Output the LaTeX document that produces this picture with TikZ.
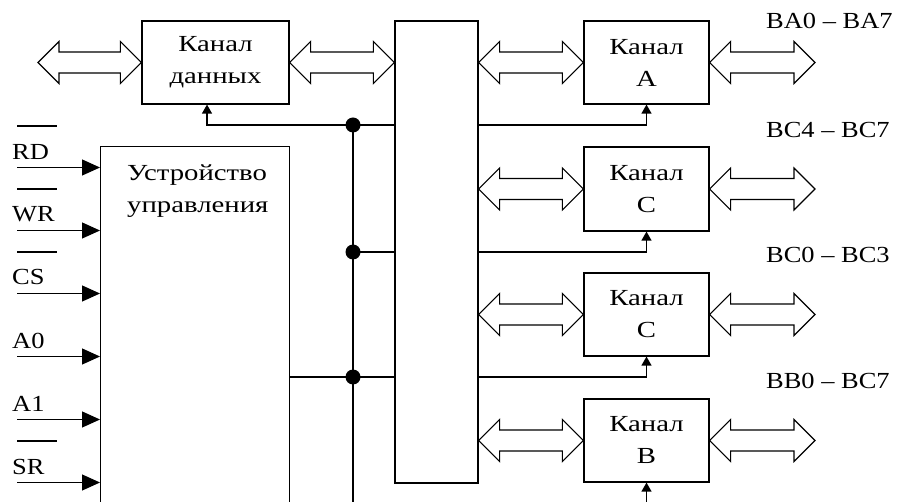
\documentclass[tikz,border=0pt]{standalone}
\usepackage{fontspec}
\setmainfont[FakeStretch=1.15]{Liberation Serif}
\newfontfamily\boxfont[FakeStretch=1.25]{Liberation Serif}
\usetikzlibrary{calc,arrows.meta}

\tikzset{
  every node/.style={font=\fontsize{23}{32}\selectfont},
  blk/.style={draw, line width=1.2pt, inner sep=0pt, align=center,
    font=\boxfont\fontsize{23}{32}\selectfont},
  wire/.style={line width=1.2pt},
  fb/.style={wire, -{Triangle[length=9pt,width=10pt]}},
  inp/.style={wire, -{Triangle[length=18pt,width=16pt]}},
  busline/.style={line width=1.1pt, line join=miter, fill=white},
  junction/.style={circle, fill, inner sep=0pt, minimum size=15pt},
  sig/.style={anchor=west, inner sep=0pt},
}

% wide two-headed bus arrow between two points (drawn at the height of the first)
\newcommand\dbus[2]{%
  \draw[busline] let \p1=(#1), \p2=(#2) in
    (\x1,\y1) -- (\x1+21pt,\y1+21pt) -- (\x1+21pt,\y1+10.5pt)
    -- (\x2-21pt,\y1+10.5pt) -- (\x2-21pt,\y1+21pt) -- (\x2,\y1)
    -- (\x2-21pt,\y1-21pt) -- (\x2-21pt,\y1-10.5pt)
    -- (\x1+21pt,\y1-10.5pt) -- (\x1+21pt,\y1-21pt) -- cycle;}

% control input: line with arrow into the control unit, label above
\newcommand\sigin[3]{%
  \coordinate (#1in) at (17,#2);
  \draw[inp] (#1in) -- (#1in -| ctrl.west);
  \node[sig] (#1lbl) at (12,#2-16) {#3};}
\newcommand\sigbar[1]{%
  \draw[wire] (17,#1-41.5) -- (57,#1-41.5);}

\begin{document}
\begin{tikzpicture}[x=1pt,y=-1pt]
\useasboundingbox (0,0) rectangle (900,502);
\clip (0,0) rectangle (900,502);

% blocks
\node[blk, minimum width=147pt, minimum height=83pt] (data) at (215.5,62.5) {Канал\\данных};
\node[blk, minimum width=83pt, minimum height=462pt] (bus) at (436.5,252) {};
\node[blk, minimum width=125pt, minimum height=83pt] (chA) at (646.5,62.5) {Канал\\A};
\node[blk, minimum width=125pt, minimum height=84pt] (chC1) at (646.5,189) {Канал\\C};
\node[blk, minimum width=125pt, minimum height=83pt] (chC2) at (646.5,314.5) {Канал\\C};
\node[blk, minimum width=125pt, minimum height=83pt] (chB) at (646.5,440.5) {Канал\\B};
\node[blk, anchor=north west, minimum width=189pt, minimum height=420pt] (ctrl) at (100,146) {};
\node[anchor=north west, align=left, inner sep=0pt, font=\boxfont\fontsize{23}{32}\selectfont]
  (ctrltxt) at (127,165) {Устройство\\управления};

% port labels
\node[sig] (lbA) at (766,21) {BA0 – BA7};
\node[sig] (lbC1) at (766,130) {BC4 – BC7};
\node[sig] (lbC2) at (766,254.5) {BC0 – BC3};
\node[sig] (lbB) at (766,380.5) {BB0 – BC7};

% buses
\coordinate (dIn) at (38,62.5);
\dbus{dIn}{data.west}
\dbus{data.east}{data.east -| bus.west}
\coordinate (aOut) at (815,62.5);
\dbus{chA.west -| bus.east}{chA.west}
\dbus{chA.east}{aOut}
\coordinate (c1Out) at (815,189);
\dbus{chC1.west -| bus.east}{chC1.west}
\dbus{chC1.east}{c1Out}
\coordinate (c2Out) at (815,314.5);
\dbus{chC2.west -| bus.east}{chC2.west}
\dbus{chC2.east}{c2Out}
\coordinate (bOut) at (815,440.5);
\dbus{chB.west -| bus.east}{chB.west}
\dbus{chB.east}{bOut}

% control inputs
\sigin{rd}{167.5}{RD}\sigbar{167.5}
\sigin{wr}{230.5}{WR}\sigbar{230.5}
\sigin{cs}{293.5}{CS}\sigbar{293.5}
\sigin{az}{356.5}{A0}
\sigin{ao}{419.5}{A1}
\sigin{sr}{482.5}{SR}\sigbar{482.5}

% control lines
\coordinate (jA) at (353,125);
\coordinate (jB) at (353,252);
\coordinate (jC) at (353,377);
\coordinate (vbot) at (353,520);
\draw[wire] (jA) -- (vbot);
\draw[fb] (jA -| bus.west) -- (jA) -| ([xshift=-8.5pt]data.south);
\draw[wire] (jB) -- (jB -| bus.west);
\draw[wire] (jC -| ctrl.east) -- (jC -| bus.west);
\draw[fb] (jA -| bus.east) -| (chA.south);
\draw[fb] (jB -| bus.east) -| (chC1.south);
\draw[fb] (jC -| bus.east) -| (chC2.south);
\coordinate (bfeed) at (646.5,520);
\draw[fb] (bfeed) -- (chB.south);

\node[junction] (dotA) at (jA) {};
\node[junction] (dotB) at (jB) {};
\node[junction] (dotC) at (jC) {};
\end{tikzpicture}
\end{document}
